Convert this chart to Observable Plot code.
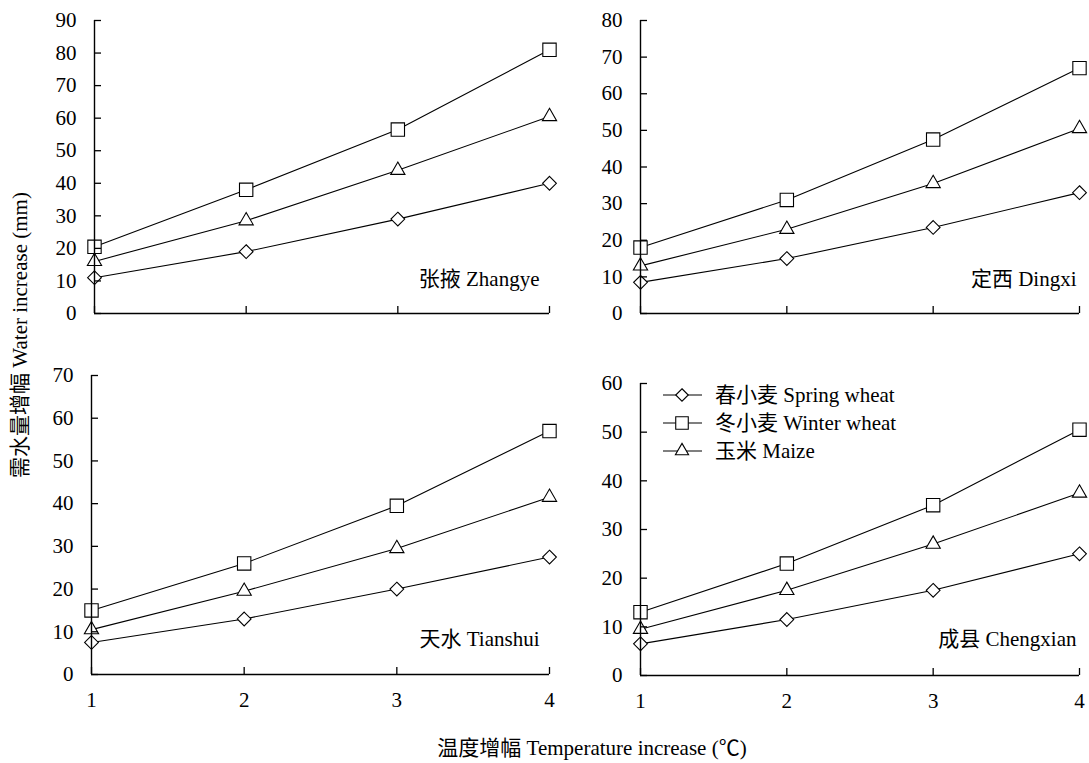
<!DOCTYPE html>
<html><head><meta charset="utf-8">
<script src="https://cdn.jsdelivr.net/npm/d3@7"></script>
<script src="https://cdn.jsdelivr.net/npm/@observablehq/plot@0.6"></script>
<style>
body{margin:0;background:#fff;}
#wrap{position:relative;width:1089px;height:763px;background:#fff;overflow:hidden;}
#wrap svg{position:absolute;}
</style></head><body><div id="wrap"></div>
<script>
const FONT = '"Liberation Serif", "Times New Roman", "Noto Sans CJK SC", serif';
const temps = [1, 2, 3, 4];
const cropNames = ["春小麦 Spring wheat", "冬小麦 Winter wheat", "玉米 Maize"];
const cropSymbols = ["diamond2", "square2", "triangle2"];
const cropRadius = [6.2, 8.5, 6.8];

const siteNames = ["张掖 Zhangye", "定西 Dingxi", "天水 Tianshui", "成县 Chengxian"];

const zhangyeSpring = [11, 19, 29, 40];
const zhangyeWinter = [20.5, 38, 56.5, 81];
const zhangyeMaize = [16, 28.5, 44, 60.5];

const dingxiSpring = [8.5, 15, 23.5, 33];
const dingxiWinter = [18, 31, 47.5, 67];
const dingxiMaize = [13, 23, 35.5, 50.5];

const tianshuiSpring = [7.5, 13, 20, 27.5];
const tianshuiWinter = [15, 26, 39.5, 57];
const tianshuiMaize = [10.5, 19.5, 29.5, 41.5];

const chengxianSpring = [6.5, 11.5, 17.5, 25];
const chengxianWinter = [13, 23, 35, 50.5];
const chengxianMaize = [9.5, 17.5, 27, 37.5];

const yTicksZhangye = [0, 10, 20, 30, 40, 50, 60, 70, 80, 90];
const yTicksDingxi = [0, 10, 20, 30, 40, 50, 60, 70, 80];
const yTicksTianshui = [0, 10, 20, 30, 40, 50, 60, 70];
const yTicksChengxian = [0, 10, 20, 30, 40, 50, 60];

const yTitle = "需水量增幅 Water increase (mm)";
const xTitle = "温度增幅 Temperature increase (℃)";

const wrap = document.getElementById("wrap");

function panel(name, series, yTicks, showX, box) {
  const rows = [];
  series.forEach((vals, i) => vals.forEach((v, j) => rows.push({t: temps[j], v, crop: cropNames[i], ci: i})));
  const marks = [
    Plot.line(rows, {x: "t", y: "v", z: "crop", stroke: "#000", strokeWidth: 1.1}),
    ...cropNames.map((c, i) => Plot.dot(rows.filter(d => d.ci === i), {
      x: "t", y: "v", symbol: cropSymbols[i], r: cropRadius[i], fill: "white", stroke: "#000", strokeWidth: 1.1
    })),
    Plot.ruleX([temps[0]], {stroke: "#000", strokeWidth: 1.4}),
    Plot.ruleY([0], {stroke: "#000", strokeWidth: 1.4}),
    Plot.axisY({ticks: yTicks, anchor: "left", tickSize: 7, dx: 7, strokeWidth: 1.3, tickFormat: () => "", label: null}),
    Plot.axisY({ticks: yTicks, anchor: "left", tickSize: 0, tickPadding: 18, tickFormat: d => String(d), fill: "#000", label: null}),
    Plot.axisX({ticks: temps, anchor: "bottom", tickSize: 7, dy: -7, strokeWidth: 1.3, tickFormat: () => "", label: null}),
    Plot.text([name], {frameAnchor: "bottom-right", textAnchor: "end", dx: box.ldx, dy: box.ldy, fill: "#000"})
  ];
  if (showX) marks.push(Plot.axisX({ticks: temps, anchor: "bottom", tickSize: 0, tickPadding: 18, tickFormat: d => String(d), fill: "#000", label: null}));
  const svg = Plot.plot({
    width: box.w, height: box.h,
    marginLeft: box.ml, marginRight: box.mr, marginTop: box.mt, marginBottom: box.mb,
    x: {domain: [temps[0], temps[temps.length - 1]], label: null},
    y: {domain: [0, yTicks[yTicks.length - 1]], label: null},
    style: {fontFamily: FONT, fontSize: "21px", color: "#000", background: "transparent", overflow: "visible", maxWidth: "none"},
    marks
  });
  svg.style.left = box.left + "px";
  svg.style.top = box.top + "px";
  wrap.appendChild(svg);
}

panel(siteNames[0], [zhangyeSpring, zhangyeWinter, zhangyeMaize], yTicksZhangye, false,
  {left: 0, top: 0, w: 560, h: 330, ml: 94, mr: 11, mt: 20, mb: 17, ldx: -10, ldy: -28});
panel(siteNames[1], [dingxiSpring, dingxiWinter, dingxiMaize], yTicksDingxi, false,
  {left: 560, top: 0, w: 529, h: 330, ml: 80, mr: 10, mt: 20, mb: 17, ldx: -3, ldy: -28});
panel(siteNames[2], [tianshuiSpring, tianshuiWinter, tianshuiMaize], yTicksTianshui, true,
  {left: 0, top: 350, w: 560, h: 370, ml: 91, mr: 11, mt: 25, mb: 46, ldx: -10, ldy: -29});
panel(siteNames[3], [chengxianSpring, chengxianWinter, chengxianMaize], yTicksChengxian, true,
  {left: 560, top: 350, w: 529, h: 370, ml: 80, mr: 10, mt: 33, mb: 45, ldx: -3, ldy: -30});

// overlay: axis titles and legend
const ov = d3.select(wrap).append("svg")
  .attr("width", 1089).attr("height", 763)
  .style("left", "0px").style("top", "0px")
  .attr("font-family", FONT).attr("font-size", 21).attr("fill", "#000");

ov.append("text")
  .attr("transform", "translate(20,335) rotate(-90)")
  .attr("text-anchor", "middle").attr("dy", "0.35em")
  .text(yTitle);

ov.append("text")
  .attr("x", 592).attr("y", 748)
  .attr("text-anchor", "middle").attr("dy", "0.35em")
  .text(xTitle);

const legendSyms = [d3.symbolDiamond2, d3.symbolSquare2, d3.symbolTriangle2];
const legendSizes = [100, 200, 125];
cropNames.forEach((c, i) => {
  const y = 395 + i * 28;
  const g = ov.append("g");
  g.append("line").attr("x1", 663).attr("x2", 702).attr("y1", y).attr("y2", y)
    .attr("stroke", "#000").attr("stroke-width", 1.1);
  g.append("path").attr("d", d3.symbol(legendSyms[i], legendSizes[i])())
    .attr("transform", `translate(682,${y})`)
    .attr("fill", "white").attr("stroke", "#000").attr("stroke-width", 1.1);
  g.append("text").attr("x", 715).attr("y", y).attr("dy", "0.35em").text(c);
});
</script></body></html>
